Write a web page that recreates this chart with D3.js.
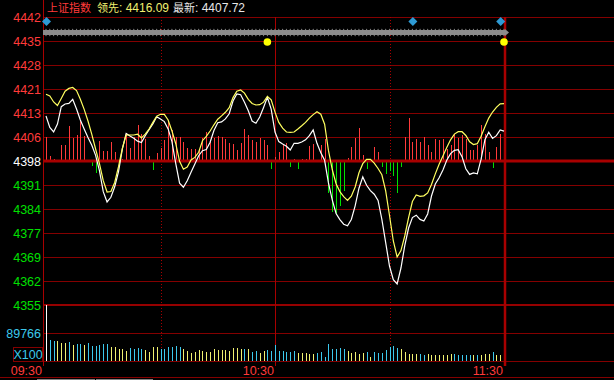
<!DOCTYPE html>
<html>
<head>
<meta charset="utf-8">
<script src="https://cdn.jsdelivr.net/npm/d3@7"></script>
<style>
  body { margin: 0; background: #000; }
  svg { display: block; }
  text { font-family: "Liberation Sans", "Noto Sans CJK SC", sans-serif; }
  .cjk { font-family: "Noto Sans CJK SC", sans-serif; }
</style>
</head>
<body>
<svg id="chart"></svg>
<script>
var W = 614, H = 380;

// --- data ---
var indexName = "上证指数";
var timeLabels = ["09:30", "10:30", "11:30"];
var timeTicks = [0, 60, 120];
var priceLabels = ["4442", "4435", "4428", "4421", "4413", "4406", "4398",
                   "4391", "4384", "4377", "4369", "4362", "4355"];
var volLabel = "89766";
var volUnit = "X100";

// white line: index price per minute 09:30..11:30
var price = [4412.34, 4408.84, 4407.47, 4409.90, 4415.17, 4415.99, 4416.17, 4417.42, 4414.47, 4411.12,
  4408.38, 4405.80, 4403.43, 4400.35, 4395.70, 4389.31, 4386.18, 4387.61, 4390.80, 4395.43,
  4402.24, 4407.04, 4406.25, 4405.59, 4404.70, 4404.25, 4406.35, 4408.17, 4409.93, 4412.12,
  4411.43, 4410.63, 4408.41, 4404.52, 4397.83, 4391.90, 4390.68, 4392.63, 4395.24, 4397.77,
  4400.26, 4401.78, 4402.12, 4404.34, 4407.93, 4410.30, 4410.54, 4411.46, 4413.01, 4416.90,
  4419.03, 4418.79, 4416.54, 4413.92, 4410.82, 4410.12, 4412.03, 4414.95, 4418.03, 4414.41,
  4407.47, 4404.55, 4403.82, 4403.15, 4402.00, 4404.03, 4404.03, 4404.43, 4405.10, 4406.35,
  4408.08, 4404.03, 4401.14, 4398.86, 4391.99, 4386.85, 4382.68, 4380.83, 4379.43, 4378.94,
  4380.86, 4385.02, 4390.38, 4393.81, 4391.26, 4389.65, 4388.55, 4386.64, 4380.89, 4373.83,
  4366.71, 4362.55, 4361.24, 4366.10, 4372.89, 4378.27, 4381.43, 4382.16, 4380.89, 4380.40,
  4382.53, 4388.00, 4391.65, 4393.57, 4395.91, 4398.86, 4400.90, 4401.90, 4402.09, 4399.96,
  4396.28, 4394.57, 4395.03, 4394.76, 4399.20, 4405.10, 4407.38, 4405.52, 4406.35, 4408.11,
  4407.72];

// yellow line: leading index
var lead = [4418.94, 4418.42, 4416.60, 4415.53, 4417.66, 4419.88, 4420.73, 4421.01, 4420.06, 4417.45,
  4414.35, 4410.82, 4406.77, 4402.30, 4397.83, 4392.66, 4389.22, 4389.37, 4392.11, 4396.92,
  4402.51, 4406.56, 4406.56, 4406.56, 4406.80, 4405.65, 4406.80, 4408.38, 4410.39, 4412.25,
  4412.85, 4412.85, 4411.12, 4407.78, 4403.91, 4398.56, 4396.16, 4396.82, 4398.95, 4399.75,
  4401.30, 4404.82, 4406.13, 4407.78, 4409.66, 4411.36, 4412.37, 4413.46, 4414.86, 4417.93,
  4419.88, 4420.25, 4419.30, 4417.42, 4416.14, 4415.68, 4415.77, 4416.54, 4418.27, 4417.23,
  4413.52, 4410.39, 4408.63, 4407.47, 4407.38, 4407.47, 4408.38, 4409.36, 4410.39, 4411.70,
  4412.76, 4413.65, 4412.89, 4409.84, 4401.87, 4396.06, 4391.75, 4389.34, 4387.79, 4386.64,
  4387.94, 4390.74, 4395.06, 4397.83, 4399.14, 4399.17, 4398.01, 4396.37, 4394.45, 4389.59,
  4382.07, 4374.32, 4369.45, 4371.40, 4375.84, 4381.40, 4386.33, 4388.31, 4387.91, 4388.06,
  4388.95, 4391.50, 4394.73, 4397.65, 4400.17, 4402.73, 4405.10, 4406.83, 4407.56, 4407.56,
  4406.41, 4404.49, 4403.67, 4403.91, 4406.16, 4409.05, 4411.70, 4413.55, 4414.98, 4416.02,
  4416.09];

// red / green strength bars around the previous close
var power = [24, 5, 2, -1, 16, 16, 35, 23, 26, 40,
  25, -1, -5, -12, 20, 10, 10, 19, 9, -1,
  2, 28, 13, 24, 36, 27, 22, 5, -9, 8,
  13, 21, 39, 31, 24, 24, 19, 13, 12, 12,
  11, 23, 29, 19, 23, 25, 24, 22, 18, 17,
  11, 18, 32, 26, 21, 19, 23, 21, 16, -8,
  4, 9, 17, 18, -6, 2, -8, 2, 2, 15,
  17, -1, 16, 22, -32, -51, -53, -45, -30, 3,
  14, 23, 33, 6, -8, 0, 14, 9, -6, -13,
  -10, -15, -32, -6, 24, 43, 19, 22, 19, 24,
  16, 9, 22, 21, 22, 12, 16, 27, 23, 26,
  22, 11, 11, 16, 36, 27, 9, -7, 14, 27,
  26];

// volume (x100) and bar colour: 2 = open, 1 = cyan, 0 = yellow
var volume = [180500, 67300, 65100, 63200, 58700, 58700, 60900, 52300, 54500, 54500,
  52300, 56700, 48100, 48100, 52300, 54500, 54500, 45800, 43900, 37500,
  37500, 33000, 41700, 39400, 41700, 39400, 35300, 28900, 43900, 45800,
  39400, 39400, 43900, 45800, 48100, 45800, 39400, 33000, 26600, 28900,
  35300, 31100, 28900, 28900, 39400, 35300, 35300, 35300, 33000, 41700,
  41700, 39400, 39400, 37500, 28900, 31100, 24700, 33000, 35300, 32100,
  52300, 31100, 31100, 28900, 28900, 31100, 24700, 26600, 26600, 22400,
  22400, 26600, 28900, 13800, 54500, 37500, 37500, 41700, 37500, 31100,
  26600, 28900, 22400, 26600, 28900, 13800, 28900, 26600, 26600, 35300,
  45800, 48100, 41700, 37500, 28900, 22400, 22400, 22400, 22400, 20200,
  22400, 20200, 20200, 20200, 20200, 20200, 22400, 22400, 20200, 20200,
  20200, 20200, 20200, 20200, 20200, 22400, 22400, 28900, 20200, 20200,
  7400];
var volColor = [2, 1, 1, 0, 0, 0, 1, 0, 1, 1, 0,
  1, 1, 1, 1, 1, 1, 0, 0, 0, 0,
  0, 1, 1, 1, 1, 0, 0, 0, 0, 1,
  1, 1, 1, 1, 1, 0, 0, 0, 0, 0,
  0, 0, 0, 0, 0, 0, 0, 0, 0, 0,
  0, 1, 0, 1, 1, 0, 0, 1, 1, 1,
  1, 1, 1, 1, 1, 0, 0, 0, 0, 0,
  1, 1, 1, 1, 1, 1, 1, 1, 0, 0,
  0, 0, 0, 1, 0, 1, 1, 1, 1, 1,
  1, 1, 0, 0, 0, 0, 0, 1, 1, 0,
  0, 0, 0, 0, 0, 0, 1, 1, 1, 1,
  1, 0, 1, 0, 0, 0, 1, 0, 0, 1];

// event markers (minute index)
var blueMarks = [0, 96, 119];
var yellowMarks = [58, 120];

// --- colours ---
var gridRed = "#840000", axisRed = "#a80000";
var upRed = "#ff3a3a", downGreen = "#00e000";
var cyan = "#3cc8ec", paleYellow = "#f0f070";

var svg = d3.select("#chart").attr("width", W).attr("height", H);
svg.append("rect").attr("width", W).attr("height", H).attr("fill", "#000");

var left = 43;
var x = d3.scaleLinear().domain([0, 120]).range([46, 504]);
var gridY = d3.scaleLinear().domain([0, priceLabels.length - 1]).range([17, 305]);
var priceY = d3.scaleLinear().domain([4354.85, 4442.45]).range([305, 17]);
var powerY = d3.scaleLinear().domain([-144, 144]).range([305, 17]);
var volY = d3.scaleLinear().domain([0, 89766]).range([361, 333]);

var px = function(v) { return Math.round(v) + 0.5; };

// horizontal grid
var g = svg.append("g").attr("shape-rendering", "crispEdges");
priceLabels.forEach(function(l, k) {
  var mid = k === 6, low = k === priceLabels.length - 1;
  if (mid) return;
  g.append("line")
    .attr("x1", left).attr("x2", W)
    .attr("y1", Math.round(gridY(k)) + (low ? 0 : 0.5))
    .attr("y2", Math.round(gridY(k)) + (low ? 0 : 0.5))
    .attr("stroke", low ? "#960000" : gridRed)
    .attr("stroke-width", low ? 2 : 1);
});
[89766, 0].forEach(function(v) {
  g.append("line").attr("x1", left).attr("x2", W)
    .attr("y1", px(volY(v))).attr("y2", px(volY(v)))
    .attr("stroke", gridRed);
});
g.append("line").attr("x1", 0).attr("x2", W).attr("y1", 377.5).attr("y2", 377.5).attr("stroke", gridRed);
g.append("rect").attr("x", 37).attr("y", 378.5).attr("width", 58).attr("height", 2).attr("fill", "#808080");
g.append("rect").attr("x", 96).attr("y", 378.5).attr("width", 57).attr("height", 2).attr("fill", "#808080");

// vertical grid
g.append("line").attr("x1", left + 0.5).attr("x2", left + 0.5).attr("y1", 0).attr("y2", 366).attr("stroke", axisRed);
[30, 90].forEach(function(m) {
  g.append("line").attr("x1", px(x(m))).attr("x2", px(x(m)))
    .attr("y1", 17).attr("y2", 361)
    .attr("stroke", axisRed).attr("stroke-dasharray", "1,2");
});
g.append("line").attr("x1", px(x(60))).attr("x2", px(x(60))).attr("y1", 17).attr("y2", 366).attr("stroke", axisRed);

// strength bars
svg.append("g").attr("shape-rendering", "crispEdges")
  .selectAll("rect").data(power).enter().append("rect")
    .attr("x", function(d, i) { return Math.round(x(i)); })
    .attr("width", 1)
    .attr("y", function(d) { return d >= 0 ? powerY(d) : powerY(0); })
    .attr("height", function(d) { return Math.abs(powerY(d) - powerY(0)); })
    .attr("fill", function(d) { return d >= 0 ? upRed : downGreen; });

// previous close line drawn over bar roots
svg.append("line").attr("x1", left).attr("x2", W)
  .attr("y1", gridY(6)).attr("y2", gridY(6))
  .attr("stroke", axisRed).attr("stroke-width", 3);

// volume bars
svg.append("g").attr("shape-rendering", "crispEdges")
  .selectAll("rect").data(volume).enter().append("rect")
    .attr("x", function(d, i) { return Math.round(x(i)); })
    .attr("width", 1)
    .attr("y", function(d) { return volY(d); })
    .attr("height", function(d) { return volY(0) - volY(d); })
    .attr("fill", function(d, i) { return volColor[i] === 2 ? "#fff" : (volColor[i] ? cyan : paleYellow); });

// right edge (11:30)
svg.append("line").attr("x1", Math.round(x(120)) + 1).attr("x2", Math.round(x(120)) + 1)
  .attr("y1", 17).attr("y2", 366).attr("stroke", axisRed).attr("stroke-width", 2.5);

// price lines
var line = d3.line()
  .x(function(d, i) { return x(i); })
  .y(function(d) { return priceY(d); });
svg.append("path").datum(price).attr("d", line)
  .attr("fill", "none").attr("stroke", "#fff").attr("stroke-width", 1.2);
svg.append("path").datum(lead).attr("d", line)
  .attr("fill", "none").attr("stroke", "#ffff60").attr("stroke-width", 1.2);

// marker strip
var strip = svg.append("g");
strip.append("rect").attr("x", left).attr("y", 30).attr("width", x(120) - left + 2).attr("height", 5).attr("fill", "#8c8c8c");
strip.selectAll("path.tick").data(d3.range(0, 121)).enter().append("path")
  .attr("d", function(m) {
    var cx = x(m);
    return "M" + (cx - 2) + ",32.5L" + cx + ",28.5L" + (cx + 2) + ",32.5L" + cx + ",36.5Z";
  })
  .attr("fill", "#8c8c8c");
strip.append("path")
  .attr("d", "M" + (x(120) + 1) + ",29L" + (x(120) + 5) + ",32.5L" + (x(120) + 1) + ",36Z")
  .attr("fill", "#8c8c8c");
strip.selectAll("path.blue").data(blueMarks).enter().append("path")
  .attr("d", function(m) {
    var cx = x(m) + 0.5, cy = 21.5;
    return "M" + (cx - 4.5) + "," + cy + "L" + cx + "," + (cy - 4.5) + "L" + (cx + 4.5) + "," + cy + "L" + cx + "," + (cy + 4.5) + "Z";
  })
  .attr("fill", "#2e9ad4");
strip.selectAll("circle").data(yellowMarks).enter().append("circle")
  .attr("cx", function(m) { return x(m); }).attr("cy", 42).attr("r", 3.8)
  .attr("fill", "#ffff00");

// y labels
svg.selectAll("text.py").data(priceLabels).enter().append("text")
  .attr("x", 41).attr("y", function(d, k) { return gridY(k); })
  .attr("dy", "0.36em").attr("text-anchor", "end")
  .attr("font-size", 12.5)
  .attr("fill", function(d, k) { return k < 6 ? upRed : (k === 6 ? "#fff" : downGreen); })
  .text(function(d) { return d; });

svg.append("text").attr("x", 41).attr("y", volY(89766)).attr("dy", "0.36em")
  .attr("text-anchor", "end").attr("font-size", 12.5).attr("fill", cyan).text(volLabel);
svg.append("rect").attr("x", 13.5).attr("y", 347.5).attr("width", 29).attr("height", 14)
  .attr("fill", "none").attr("stroke", gridRed);
svg.append("text").attr("x", 28).attr("y", 354.5).attr("dy", "0.36em")
  .attr("text-anchor", "middle").attr("font-size", 12.5).attr("fill", cyan).text(volUnit);

// time axis
timeTicks.forEach(function(m, k) {
  var tx = m === 0 ? left : Math.round(x(m));
  svg.append("line").attr("x1", tx + 0.5).attr("x2", tx + 0.5).attr("y1", 361).attr("y2", 366)
    .attr("stroke", axisRed);
  svg.append("text").attr("x", tx - 1).attr("y", 370).attr("dy", "0.36em")
    .attr("text-anchor", "end").attr("font-size", 12.5).attr("fill", upRed)
    .text(timeLabels[k]);
});

// header
var head = svg.append("g");
head.append("text").attr("class", "cjk").attr("x", 47).attr("y", 12)
  .attr("font-size", 11).attr("fill", upRed).text(indexName);
var t1 = head.append("text").attr("x", 97).attr("y", 12).attr("fill", "#f0f070");
t1.append("tspan").attr("class", "cjk").attr("font-size", 11).text("领先");
t1.append("tspan").attr("font-size", 12).text(": " + lead[lead.length - 1].toFixed(2));
var t2 = head.append("text").attr("x", 173).attr("y", 12).attr("fill", "#e8e8e8");
t2.append("tspan").attr("class", "cjk").attr("font-size", 11).text("最新");
t2.append("tspan").attr("font-size", 12).text(": " + price[price.length - 1].toFixed(2));
</script>
</body>
</html>
